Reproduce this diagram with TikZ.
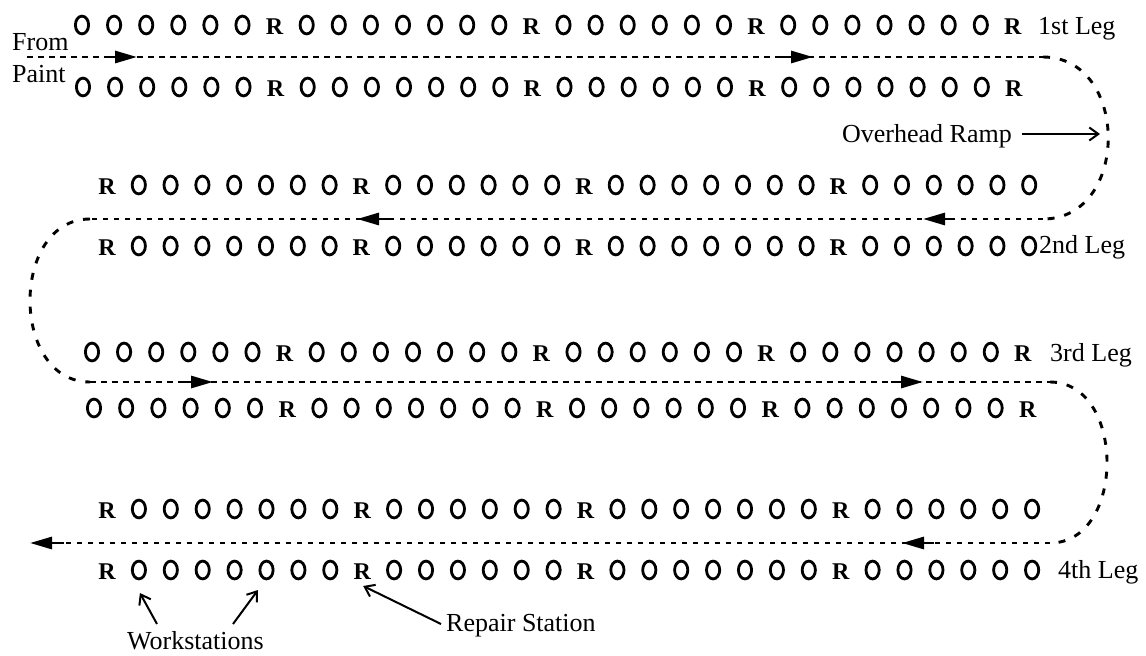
\documentclass[tikz,border=0pt]{standalone}
\usepackage{fontspec}
\setmainfont{Liberation Serif}
\usetikzlibrary{arrows.meta}
\newcommand\wsPatA{0,0,0,0,0,0,1,0,0,0,0,0,0,0,1,0,0,0,0,0,0,1,0,0,0,0,0,0,0,1}
\newcommand\wsPatB{1,0,0,0,0,0,0,0,1,0,0,0,0,0,0,1,0,0,0,0,0,0,0,1,0,0,0,0,0,0}
\newcommand\makeStationRow[5]{%
  \foreach \t [count=\i from 0] in #5 {%
    \ifnum\t=1
      \node[rstat] (#1-\i) at ({#2+\i*#3},{#4+9}) {R};
    \else
      \coordinate (#1-\i) at ({#2+\i*#3},#4);
      \draw[wstat] (#1-\i) ellipse [x radius=6.6pt, y radius=8.9pt];
    \fi
  }}
\begin{document}
\begin{tikzpicture}[x=1pt,y=-1pt,
  wstat/.style={line width=2.8pt},
  rstat/.style={font=\fontsize{24}{28}\selectfont\bfseries, inner sep=0pt, anchor=base},
  lbl/.style={font=\fontsize{26}{30}\selectfont, inner sep=0pt},
  trackline/.style={line width=2.9pt, dash pattern=on 5.5pt off 5.5pt},
  trackcurve/.style={line width=2.9pt, dash pattern=on 7pt off 10pt},
  midarrow/.style={line width=2.9pt, -{Triangle[length=22pt,width=12pt]}},
  annarrow/.style={line width=2pt, -{Straight Barb[length=9pt,width=13pt,line width=2pt]}}]
\useasboundingbox (0,0) rectangle (1146,656);

% station rows
\makeStationRow{ra}{82}{32.1}{25}{\wsPatA}
\makeStationRow{rb}{83}{32.1}{87}{\wsPatA}
\makeStationRow{rc}{107}{31.8}{185}{\wsPatB}
\makeStationRow{rd}{107}{31.8}{246}{\wsPatB}
\makeStationRow{re}{92}{32.1}{352}{\wsPatA}
\makeStationRow{rf}{94}{32.2}{408}{\wsPatA}
\makeStationRow{rg}{107}{31.9}{509}{\wsPatB}
\makeStationRow{rh}{107}{31.9}{570}{\wsPatB}

% leg labels
\node[lbl, anchor=base west] (leg1) at (1038,34) {1st Leg};
\node[lbl, anchor=base west] (leg2) at (1039,253) {2nd Leg};
\node[lbl, anchor=base west] (leg3) at (1050,361) {3rd Leg};
\node[lbl, anchor=base west] (leg4) at (1058,578) {4th Leg};
\node[lbl, anchor=base west] (from) at (12,50) {From};
\node[lbl, anchor=base west] (paint) at (12,82) {Paint};

% track
\coordinate (t1s) at (27,57);
\coordinate (t1e) at (1043,57);
\coordinate (t2s) at (1043,219);
\coordinate (t2e) at (90,219);
\coordinate (t3s) at (90,382);
\coordinate (t3e) at (1050,382);
\coordinate (t4s) at (1050,543);
\coordinate (t4e) at (64,543);
\draw[trackline] (t1s) -- (t1e);
\draw[trackcurve] (t1e) .. controls (1130,57) and (1130,219) .. (t2s);
\draw[trackline] (t2s) -- (t2e);
\draw[trackcurve] (t2e) .. controls (10,219) and (10,382) .. (t3s);
\draw[trackline] (t3s) -- (t3e);
\draw[trackcurve] (t3e) .. controls (1126,382) and (1126,543) .. (t4s);
\draw[trackline] (t4s) -- (t4e);

% direction arrows on track
\coordinate (a1t) at (105,57);  \coordinate (a1h) at (137,57);
\coordinate (a2t) at (781,57);  \coordinate (a2h) at (813,57);
\coordinate (a3t) at (955,219); \coordinate (a3h) at (923,219);
\coordinate (a4t) at (389,219); \coordinate (a4h) at (357,219);
\coordinate (a5t) at (181,382); \coordinate (a5h) at (213,382);
\coordinate (a6t) at (891,382); \coordinate (a6h) at (923,382);
\coordinate (a7t) at (934,543); \coordinate (a7h) at (902,543);
\coordinate (a8h) at (30,543);
\foreach \n in {1,...,7} {\draw[midarrow] (a\n t) -- (a\n h);}
\draw[midarrow] (t4e) -- (a8h);

% overhead ramp
\node[lbl, anchor=base east] (ramp) at (1012,142) {Overhead Ramp};
\coordinate (rampTail) at (1022,134);
\coordinate (rampTip) at (1100,134);
\draw[annarrow] (rampTail) -- (rampTip);

% workstations / repair station
\node[lbl, anchor=base west] (wsl) at (127,649) {Workstations};
\node[lbl, anchor=base west] (rsl) at (446,631) {Repair Station};
\coordinate (ws1tail) at (157,624);
\coordinate (ws2tail) at (233,624);
\coordinate (rstail) at (441,624);
\draw[annarrow] (ws1tail) -- ([xshift=1pt,yshift=-23pt]rh-1);
\draw[annarrow] (ws2tail) -- ([xshift=-8.5pt,yshift=-20pt]rh-5);
\draw[annarrow] (rstail) -- ([xshift=1pt,yshift=-7pt]rh-8.base);
\end{tikzpicture}
\end{document}
